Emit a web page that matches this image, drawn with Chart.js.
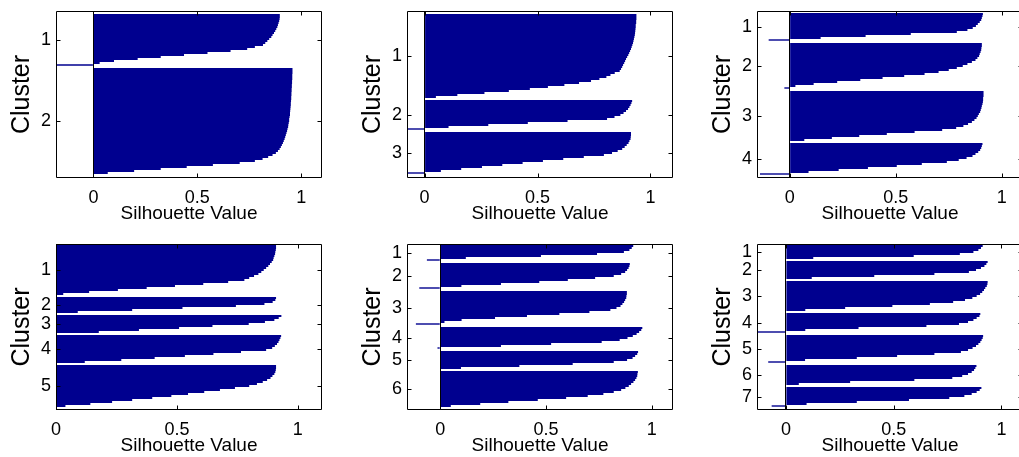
<!DOCTYPE html>
<html lang="en">
<head>
<meta charset="UTF-8">
<title>Silhouette plots</title>
<script src="https://cdn.jsdelivr.net/npm/chart.js"></script>
<style>
  html, body { margin: 0; padding: 0; background: #fff; overflow: hidden; }
  body { width: 1019px; height: 457px; position: relative; }
  canvas { position: absolute; }
</style>
</head>
<body>
<canvas id="k2"></canvas>
<canvas id="k3"></canvas>
<canvas id="k4"></canvas>
<canvas id="k5"></canvas>
<canvas id="k6"></canvas>
<canvas id="k7"></canvas>
<script>
// silhouette values of each cluster, sorted from high to low
const silK2 = [
  [0.897, 0.897, 0.896, 0.894, 0.891, 0.888, 0.885, 0.880, 0.875, 0.869, 0.862, 0.856, 0.846, 0.837, 0.827,
   0.816, 0.777, 0.740, 0.660, 0.549, 0.436, 0.324, 0.213, 0.099, 0.03, -0.18],
  [0.958, 0.958, 0.958, 0.957, 0.957, 0.957, 0.956, 0.956, 0.955, 0.955, 0.954, 0.954, 0.953, 0.953, 0.952,
   0.952, 0.951, 0.950, 0.950, 0.949, 0.948, 0.947, 0.946, 0.946, 0.944, 0.942, 0.942, 0.940, 0.938, 0.937,
   0.934, 0.932, 0.929, 0.926, 0.923, 0.920, 0.916, 0.912, 0.907, 0.902, 0.896, 0.888, 0.878, 0.862, 0.841,
   0.814, 0.777, 0.704, 0.575, 0.449, 0.324, 0.196, 0.069]
];
const silK3 = [
  [0.938, 0.938, 0.938, 0.937, 0.937, 0.935, 0.935, 0.934, 0.933, 0.932, 0.931, 0.929, 0.927, 0.925, 0.923,
   0.920, 0.917, 0.914, 0.910, 0.906, 0.902, 0.897, 0.892, 0.888, 0.884, 0.879, 0.875, 0.870, 0.864, 0.842,
   0.823, 0.805, 0.774, 0.737, 0.684, 0.619, 0.546, 0.466, 0.373, 0.265, 0.145, 0.05],
  [0.919, 0.916, 0.912, 0.907, 0.901, 0.892, 0.881, 0.867, 0.841, 0.808, 0.633, 0.457, 0.282, 0.106, -0.077],
  [0.914, 0.914, 0.913, 0.912, 0.907, 0.903, 0.895, 0.886, 0.875, 0.855, 0.830, 0.794, 0.705, 0.614, 0.524,
   0.434, 0.344, 0.254, 0.162, 0.072, -0.077]
];
const silK4 = [
  [0.911, 0.909, 0.906, 0.903, 0.896, 0.887, 0.878, 0.863, 0.838, 0.788, 0.571, 0.358, 0.146, -0.099],
  [0.906, 0.906, 0.904, 0.903, 0.900, 0.896, 0.893, 0.885, 0.876, 0.859, 0.838, 0.816, 0.788, 0.750, 0.702,
   0.636, 0.540, 0.438, 0.333, 0.224, 0.113, 0.027, -0.025],
  [0.914, 0.914, 0.914, 0.912, 0.912, 0.911, 0.909, 0.906, 0.904, 0.901, 0.898, 0.892, 0.887, 0.881, 0.871,
   0.859, 0.841, 0.819, 0.785, 0.719, 0.589, 0.458, 0.328, 0.199, 0.069],
  [0.909, 0.906, 0.903, 0.898, 0.889, 0.876, 0.862, 0.834, 0.797, 0.741, 0.623, 0.505, 0.369, 0.231, 0.089, -0.14]
];
const silK5 = [
  [0.910, 0.910, 0.909, 0.907, 0.906, 0.903, 0.900, 0.898, 0.892, 0.885, 0.878, 0.869, 0.859, 0.849, 0.837,
   0.819, 0.799, 0.779, 0.712, 0.609, 0.492, 0.375, 0.256, 0.137, 0.03],
  [0.910, 0.907, 0.896, 0.862, 0.744, 0.523, 0.315, 0.09],
  [0.932, 0.921, 0.903, 0.864, 0.797, 0.647, 0.509, 0.343, 0.177],
  [0.931, 0.928, 0.924, 0.920, 0.914, 0.905, 0.894, 0.869, 0.765, 0.651, 0.533, 0.408, 0.270, 0.119],
  [0.910, 0.910, 0.909, 0.907, 0.903, 0.895, 0.887, 0.873, 0.855, 0.831, 0.799, 0.740, 0.678, 0.613, 0.546,
   0.477, 0.398, 0.315, 0.232, 0.142, 0.039]
];
const silK6 = [
  [0.912, 0.905, 0.894, 0.868, 0.741, 0.476, 0.121, -0.063],
  [0.896, 0.894, 0.890, 0.883, 0.874, 0.855, 0.820, 0.732, 0.603, 0.468, 0.287, 0.10, -0.099],
  [0.882, 0.882, 0.880, 0.879, 0.874, 0.869, 0.861, 0.852, 0.833, 0.804, 0.705, 0.563, 0.410, 0.259, 0.101,
   0.02, -0.115],
  [0.955, 0.950, 0.940, 0.928, 0.910, 0.885, 0.848, 0.763, 0.524, 0.287, -0.013],
  [0.935, 0.931, 0.921, 0.909, 0.883, 0.820, 0.626, 0.374, 0.098],
  [0.934, 0.932, 0.931, 0.927, 0.921, 0.913, 0.902, 0.891, 0.875, 0.855, 0.820, 0.771, 0.697, 0.595, 0.461,
   0.322, 0.189, 0.050]
];
const silK7 = [
  [0.913, 0.905, 0.893, 0.870, 0.807, 0.593, 0.127],
  [0.936, 0.930, 0.921, 0.905, 0.882, 0.849, 0.689, 0.410, 0.12],
  [0.936, 0.935, 0.932, 0.925, 0.919, 0.911, 0.901, 0.885, 0.865, 0.831, 0.776, 0.668, 0.494, 0.275, 0.09],
  [0.902, 0.898, 0.885, 0.870, 0.845, 0.803, 0.652, 0.337, 0.09, -0.134],
  [0.915, 0.913, 0.908, 0.902, 0.893, 0.882, 0.866, 0.845, 0.812, 0.689, 0.516, 0.329, 0.089, -0.082],
  [0.884, 0.879, 0.873, 0.862, 0.845, 0.818, 0.772, 0.596, 0.298, 0.06],
  [0.907, 0.899, 0.885, 0.862, 0.828, 0.758, 0.571, 0.329, 0.096, -0.066]
];

const xTicks = [0, 0.5, 1];
const xMax = 1.1;

// left x limit and empty rows above / below for each plot
const xMins = [-0.18, -0.078, -0.154, 0, -0.157, -0.134];
const padRows = [[1.5, 2], [1.5, 2], [1, 1.5], [0.5, 1.5], [0.5, 1.5], [0.5, 1.5]];

// axes boxes on the page: left, top, right, bottom
const boxes = [
  [56, 11, 322, 178], [407, 11, 673, 178], [757, 11, 1023, 178],
  [56, 244, 322, 410], [407, 244, 673, 410], [757, 244, 1023, 410]
];

const BAR = 'rgb(0,0,143)';
const FONT = "'Liberation Sans', Arial, Helvetica, sans-serif";

// box around the axes with short inward tick marks on all four sides
const frame = {
  id: 'frame',
  afterDraw(chart) {
    const { ctx, chartArea: a, scales: { x, y } } = chart;
    const L = a.left + 0.5, R = a.right - 0.5, T = a.top + 0.5, B = a.bottom - 0.5;
    ctx.save();
    ctx.strokeStyle = '#000';
    ctx.lineWidth = 1;
    ctx.beginPath();
    ctx.rect(L, T, R - L, B - T);
    x.ticks.forEach(t => {
      const px = Math.round(x.getPixelForValue(t.value)) + 0.5;
      ctx.moveTo(px, B); ctx.lineTo(px, B - 4);
      ctx.moveTo(px, T); ctx.lineTo(px, T + 4);
    });
    y.ticks.forEach(t => {
      const py = Math.round(y.getPixelForValue(t.value)) + 0.5;
      ctx.moveTo(L, py); ctx.lineTo(L + 4, py);
      ctx.moveTo(R, py); ctx.lineTo(R - 4, py);
    });
    ctx.stroke();
    ctx.restore();
  }
};

function silhouette(id, clusters, xMin, pad, box) {
  const pos = [], neg = [], centers = [];
  let row = 1;
  clusters.forEach(vals => {
    const first = row;
    vals.forEach(v => {
      (v < 0 ? neg : pos).push({ x: v, y: row });
      row++;
    });
    centers.push((first + row - 1) / 2);
    row++; // one empty row between clusters
  });
  const lastRow = row - 2;

  const [l, t, r, b] = box;
  const canvas = document.getElementById(id);
  canvas.width = r - l + 68;
  canvas.height = b - t + 70;
  canvas.style.left = (l - 60) + 'px';
  canvas.style.top = (t - 20) + 'px';

  new Chart(canvas, {
    type: 'bar',
    data: {
      datasets: [
        { data: pos, backgroundColor: BAR, borderWidth: 0, grouped: false, inflateAmount: 0,
          barPercentage: 1, categoryPercentage: 1 },
        { data: neg, backgroundColor: BAR, borderWidth: 0, grouped: false, inflateAmount: 0,
          barPercentage: 0.7, categoryPercentage: 1 }
      ]
    },
    options: {
      indexAxis: 'y',
      responsive: false,
      animation: false,
      events: [],
      layout: { padding: { left: 0, top: 20, right: 8, bottom: 0 } },
      plugins: { legend: { display: false }, tooltip: { enabled: false } },
      scales: {
        x: {
          type: 'linear',
          min: xMin,
          max: xMax,
          offset: false,
          afterBuildTicks: s => { s.ticks = xTicks.map(v => ({ value: v })); },
          afterFit: s => { s.height = 50; },
          ticks: {
            callback: v => String(v),
            color: '#000',
            padding: 9,
            font: { family: FONT, size: 18 }
          },
          grid: {
            z: 1,
            offset: false,
            drawTicks: false,
            lineWidth: 1,
            color: c => (c.tick && c.tick.value === 0 ? '#000' : 'rgba(0,0,0,0)')
          },
          border: { display: false },
          title: {
            display: true,
            text: 'Silhouette Value',
            color: '#000',
            font: { family: FONT, size: 19 },
            padding: { top: 0, bottom: 3 }
          }
        },
        y: {
          type: 'linear',
          reverse: true,
          offset: false,
          min: 0.5 - pad[0],
          max: lastRow + 0.5 + pad[1],
          afterBuildTicks: s => { s.ticks = centers.map(v => ({ value: v })); },
          afterFit: s => { s.width = 60; },
          ticks: {
            autoSkip: false,
            callback: (v, i) => String(i + 1),
            color: '#000',
            padding: 5,
            font: { family: FONT, size: 18 }
          },
          grid: { display: false, offset: false, drawTicks: false },
          border: { display: false },
          title: {
            display: true,
            text: 'Cluster',
            color: '#000',
            font: { family: FONT, size: 25 },
            padding: { top: 11.5, bottom: 0 }
          }
        }
      }
    },
    plugins: [frame]
  });
}

const plots = [silK2, silK3, silK4, silK5, silK6, silK7];
plots.forEach((clusters, i) => {
  silhouette('k' + (i + 2), clusters, xMins[i], padRows[i], boxes[i]);
});
</script>
</body>
</html>
